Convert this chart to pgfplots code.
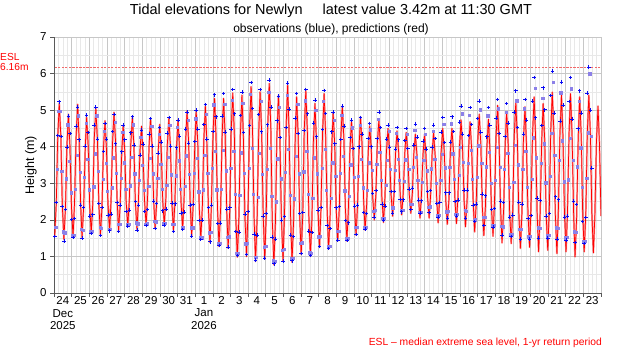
\documentclass[border=0pt]{standalone}
\usepackage{pgfplots}
\pgfplotsset{compat=1.18}
\usepackage{pgfplotstable}
\usepackage{fontspec}
\setmainfont{Liberation Sans}
\definecolor{obsblue}{RGB}{10,10,245}
\definecolor{sqblue}{RGB}{140,128,232}
\definecolor{esl}{RGB}{242,105,105}

% predictions (p) and observations (o), metres; t in days from 24 Dec 2025 00:00
\pgfplotstableread{
t p o
0.04 1.55 1.55
0.13 2.46 2.47
0.21 4.27 4.31
0.30 5.18 5.23
0.39 4.25 4.28
0.47 2.40 2.37
0.56 1.47 1.42
0.65 2.33 2.28
0.73 4.03 3.99
0.82 4.89 4.84
0.90 4.05 4.36
0.99 2.36 2.01
1.08 1.52 1.52
1.16 2.43 2.04
1.25 4.25 4.57
1.34 5.16 5.09
1.42 4.25 4.19
1.51 2.43 2.40
1.59 1.52 1.50
1.68 2.34 2.34
1.77 3.98 4.02
1.85 4.80 4.86
1.94 4.01 4.39
2.02 2.42 2.10
2.11 1.63 1.63
2.20 2.49 2.14
2.28 4.19 4.59
2.37 5.05 5.09
2.46 4.19 4.21
2.54 2.45 2.45
2.63 1.59 1.57
2.72 2.37 2.34
2.80 3.93 3.87
2.89 4.71 4.64
2.97 3.96 4.21
3.06 2.45 2.13
3.15 1.70 1.70
3.23 2.51 2.16
3.32 4.13 4.42
3.40 4.94 4.88
3.49 4.13 4.08
3.58 2.51 2.48
3.66 1.70 1.68
3.75 2.42 2.41
3.84 3.85 3.86
3.92 4.57 4.59
4.01 3.88 4.19
4.09 2.50 2.23
4.18 1.81 1.83
4.27 2.56 2.27
4.35 4.05 4.38
4.44 4.79 4.82
4.53 4.03 4.05
4.61 2.50 2.50
4.70 1.74 1.72
4.78 2.45 2.40
4.87 3.86 3.77
4.96 4.56 4.45
5.04 3.88 4.07
5.13 2.53 2.23
5.22 1.85 1.85
5.30 2.58 2.28
5.39 4.04 4.34
5.47 4.77 4.77
5.56 4.02 4.02
5.65 2.51 2.51
5.73 1.76 1.76
5.82 2.47 2.45
5.91 3.90 3.83
5.99 4.61 4.52
6.08 3.92 4.13
6.16 2.54 2.25
6.25 1.85 1.86
6.34 2.58 2.29
6.42 4.04 4.37
6.51 4.77 4.80
6.60 4.00 4.02
6.68 2.47 2.46
6.77 1.70 1.68
6.85 2.46 2.44
6.94 3.97 3.97
7.03 4.73 4.73
7.11 3.98 4.29
7.20 2.49 2.18
7.29 1.74 1.74
7.37 2.55 2.21
7.46 4.17 4.48
7.54 4.98 4.95
7.63 4.13 4.10
7.72 2.42 2.41
7.80 1.56 1.56
7.89 2.41 2.42
7.98 4.11 4.14
8.06 4.96 5.00
8.15 4.09 4.48
8.23 2.35 1.98
8.32 1.48 1.46
8.41 2.39 2.00
8.49 4.20 4.61
8.58 5.10 5.15
8.66 4.17 4.21
8.75 2.31 2.34
8.84 1.38 1.40
8.92 2.37 2.41
9.01 4.34 4.42
9.10 5.32 5.42
9.18 4.31 4.82
9.27 2.28 1.90
9.35 1.27 1.30
9.44 2.28 1.91
9.53 4.31 4.84
9.61 5.32 5.45
9.70 4.30 4.40
9.79 2.25 2.30
9.87 1.22 1.25
9.96 2.28 2.33
10.04 4.41 4.48
10.13 5.47 5.56
10.22 4.35 4.90
10.30 2.10 1.68
10.39 0.98 1.02
10.48 2.09 1.67
10.56 4.30 4.85
10.65 5.41 5.50
10.73 4.31 4.39
10.82 2.10 2.16
10.91 1.00 1.05
10.99 2.16 2.23
11.08 4.48 4.58
11.17 5.64 5.76
11.25 4.45 5.05
11.34 2.06 1.61
11.42 0.86 0.90
11.51 2.02 1.58
11.60 4.34 4.88
11.68 5.50 5.56
11.77 4.36 4.41
11.86 2.07 2.10
11.94 0.93 0.95
12.03 2.13 2.17
12.11 4.53 4.60
12.20 5.73 5.82
12.29 4.49 5.09
12.37 2.01 1.53
12.46 0.77 0.80
12.55 1.93 1.47
12.63 4.25 4.71
12.72 5.41 5.38
12.80 4.28 4.25
12.89 2.01 2.00
12.98 0.87 0.87
13.06 2.07 2.09
13.15 4.48 4.52
13.24 5.68 5.74
13.32 4.47 5.03
13.41 2.05 1.59
13.49 0.84 0.88
13.58 1.97 1.55
13.67 4.23 4.78
13.75 5.36 5.45
13.84 4.28 4.36
13.92 2.13 2.17
14.01 1.05 1.08
14.10 2.17 2.20
14.18 4.42 4.44
14.27 5.54 5.56
14.36 4.41 4.90
14.44 2.14 1.69
14.53 1.00 1.03
14.62 2.05 1.65
14.70 4.14 4.65
14.79 5.18 5.27
14.87 4.20 4.27
14.96 2.23 2.27
15.05 1.25 1.27
15.13 2.30 2.34
15.22 4.40 4.47
15.31 5.45 5.54
15.39 4.39 4.91
15.48 2.26 1.85
15.56 1.20 1.22
15.65 2.13 1.76
15.74 4.00 4.41
15.82 4.93 4.95
15.91 4.05 4.08
15.99 2.30 2.33
16.08 1.42 1.45
16.17 2.34 2.37
16.25 4.19 4.20
16.34 5.11 5.11
16.43 4.19 4.57
16.51 2.34 1.98
16.60 1.42 1.44
16.68 2.24 1.92
16.77 3.89 4.25
16.86 4.71 4.73
16.94 3.93 3.95
17.03 2.36 2.38
17.12 1.58 1.60
17.20 2.39 2.40
17.29 4.01 4.00
17.37 4.82 4.80
17.46 4.05 4.35
17.55 2.50 2.20
17.63 1.72 1.75
17.72 2.43 2.17
17.81 3.86 4.22
17.89 4.57 4.64
17.98 3.93 4.00
18.06 2.64 2.72
18.15 2.00 2.08
18.24 2.68 2.80
18.32 4.05 4.23
18.41 4.73 4.95
18.50 4.03 4.52
18.58 2.63 2.43
18.67 1.93 2.00
18.75 2.57 2.38
18.84 3.86 4.21
18.93 4.50 4.59
19.01 3.90 3.99
19.10 2.70 2.78
19.19 2.10 2.18
19.27 2.68 2.77
19.36 3.85 3.94
19.44 4.43 4.53
19.53 3.86 4.19
19.62 2.71 2.56
19.70 2.14 2.22
19.79 2.70 2.55
19.88 3.83 4.17
19.96 4.39 4.50
20.05 3.84 3.95
20.13 2.73 2.84
20.22 2.18 2.28
20.31 2.72 2.87
20.39 3.80 4.04
20.48 4.34 4.62
20.57 3.77 4.26
20.65 2.62 2.54
20.74 2.05 2.18
20.82 2.62 2.52
20.91 3.77 4.16
21.00 4.34 4.50
21.08 3.77 3.93
21.17 2.62 2.78
21.26 2.05 2.20
21.34 2.64 2.80
21.43 3.81 3.99
21.51 4.39 4.59
21.60 3.77 4.22
21.69 2.54 2.45
21.77 1.92 2.08
21.86 2.57 2.48
21.94 3.86 4.40
22.03 4.50 4.80
22.12 3.85 4.11
22.20 2.54 2.74
22.29 1.88 2.05
22.38 2.54 2.74
22.46 3.85 4.13
22.55 4.50 4.82
22.64 3.85 4.42
22.72 2.55 2.50
22.81 1.90 2.10
22.89 2.61 2.54
22.98 4.02 4.67
23.07 4.73 5.11
23.15 4.00 4.35
23.24 2.54 2.82
23.32 1.81 2.05
23.41 2.53 2.81
23.50 3.96 4.31
23.58 4.68 5.07
23.67 3.93 4.61
23.76 2.42 2.41
23.84 1.67 1.95
23.93 2.48 2.43
24.01 4.09 4.77
24.10 4.89 5.25
24.19 4.06 4.40
24.27 2.40 2.70
24.36 1.57 1.85
24.45 2.37 2.66
24.53 3.96 4.27
24.62 4.75 5.07
24.70 3.95 4.59
24.79 2.35 2.28
24.88 1.55 1.80
24.96 2.45 2.31
25.05 4.24 4.78
25.14 5.13 5.29
25.22 4.19 4.36
25.31 2.31 2.51
25.39 1.37 1.58
25.48 2.27 2.48
25.57 4.06 4.28
25.65 4.95 5.18
25.74 4.05 4.65
25.82 2.25 2.08
25.91 1.35 1.55
26.00 2.32 2.13
26.08 4.25 4.95
26.17 5.22 5.53
26.26 4.22 4.52
26.34 2.22 2.49
26.43 1.22 1.48
26.52 2.19 2.43
26.60 4.12 4.34
26.69 5.09 5.29
26.77 4.13 4.73
26.86 2.21 2.04
26.95 1.25 1.48
27.03 2.28 2.12
27.12 4.33 5.25
27.21 5.36 5.89
27.29 4.30 4.79
27.38 2.19 2.60
27.46 1.13 1.50
27.55 2.14 2.53
27.64 4.17 4.58
27.72 5.18 5.61
27.81 4.18 5.01
27.89 2.17 2.10
27.98 1.17 1.50
28.07 2.25 2.17
28.15 4.41 5.40
28.24 5.49 6.07
28.33 4.39 4.92
28.41 2.18 2.63
28.50 1.08 1.48
28.58 2.16 2.55
28.67 4.33 4.70
28.76 5.41 5.77
28.84 4.34 5.14
28.93 2.20 2.08
29.02 1.13 1.45
29.10 2.21 2.10
29.19 4.37 5.24
29.27 5.45 5.89
29.36 4.34 4.76
29.45 2.11 2.51
29.53 0.99 1.38
29.62 2.08 2.42
29.71 4.27 4.49
29.79 5.36 5.53
29.88 4.30 4.92
29.96 2.19 1.96
30.05 1.13 1.35
30.14 2.20 2.06
30.22 4.34 5.47
30.31 5.41 6.18
30.40 4.33 5.00
30.48 2.18 3.42
30.57 1.10 nan
30.65 2.10 nan
30.74 4.11 nan
30.83 5.11 nan
30.91 4.11 nan
31.00 2.10 nan
}\tide

% further observations between the rows above
\pgfplotstableread{
t o
0.08 1.80
0.17 3.39
0.26 4.98
0.34 4.97
0.43 3.33
0.52 1.68
0.60 1.65
0.69 3.13
0.77 4.61
0.86 3.61
0.95 2.75
1.03 1.58
1.12 1.58
1.21 2.84
1.29 3.77
1.38 4.85
1.46 3.30
1.55 1.74
1.64 1.73
1.72 3.18
1.81 4.64
1.90 3.66
1.98 2.83
2.07 1.68
2.15 1.69
2.24 2.91
2.33 3.81
2.41 4.85
2.50 3.33
2.59 1.81
2.67 1.78
2.76 3.11
2.84 4.43
2.93 3.55
3.02 2.79
3.10 1.75
3.19 1.75
3.28 2.88
3.36 3.70
3.45 4.67
3.53 3.28
3.62 1.89
3.71 1.88
3.79 3.14
3.88 4.40
3.97 3.57
4.05 2.85
4.14 1.88
4.22 1.88
4.31 2.94
4.40 3.71
4.48 4.61
4.57 3.27
4.66 1.93
4.74 1.90
4.83 3.09
4.91 4.27
5.00 3.49
5.09 2.82
5.17 1.89
5.26 1.90
5.35 2.93
5.43 3.69
5.52 4.57
5.60 3.27
5.69 1.96
5.78 1.95
5.86 3.14
5.95 4.34
6.03 3.53
6.12 2.85
6.21 1.91
6.29 1.91
6.38 2.95
6.47 3.71
6.55 4.59
6.64 3.24
6.72 1.89
6.81 1.88
6.90 3.21
6.98 4.53
7.07 3.62
7.16 2.85
7.24 1.79
7.33 1.79
7.41 2.93
7.50 3.76
7.59 4.72
7.67 3.26
7.76 1.79
7.85 1.79
7.93 3.28
8.02 4.77
8.10 3.69
8.19 2.77
8.28 1.52
8.36 1.52
8.45 2.83
8.53 3.78
8.62 4.90
8.71 3.28
8.79 1.65
8.88 1.67
8.97 3.41
9.05 5.15
9.14 3.89
9.22 2.83
9.31 1.37
9.40 1.37
9.48 2.84
9.57 3.91
9.66 5.17
9.74 3.35
9.83 1.53
9.92 1.54
10.00 3.41
10.09 5.27
10.17 3.88
10.26 2.70
10.35 1.10
10.43 1.10
10.52 2.68
10.61 3.84
10.69 5.20
10.78 3.28
10.86 1.35
10.95 1.37
11.04 3.41
11.12 5.44
11.21 3.96
11.29 2.70
11.38 0.98
11.47 0.98
11.55 2.63
11.64 3.83
11.73 5.25
11.81 3.26
11.90 1.26
11.99 1.28
12.07 3.39
12.16 5.49
12.24 3.96
12.33 2.66
12.42 0.89
12.50 0.88
12.59 2.50
12.67 3.68
12.76 5.08
12.85 3.13
12.93 1.17
13.02 1.20
13.11 3.31
13.19 5.41
13.28 3.94
13.36 2.68
13.45 0.96
13.54 0.96
13.62 2.58
13.71 3.75
13.80 5.16
13.88 3.27
13.97 1.37
14.05 1.38
14.14 3.32
14.23 5.26
14.31 3.88
14.40 2.71
14.49 1.11
14.57 1.10
14.66 2.60
14.74 3.70
14.83 5.00
14.92 3.27
15.00 1.54
15.09 1.56
15.18 3.41
15.26 5.25
15.35 3.94
15.43 2.82
15.52 1.29
15.61 1.28
15.69 2.60
15.78 3.57
15.87 4.72
15.95 3.20
16.04 1.69
16.12 1.70
16.21 3.28
16.30 4.87
16.38 3.75
16.47 2.80
16.56 1.50
16.64 1.50
16.73 2.66
16.81 3.51
16.90 4.52
16.99 3.17
17.07 1.81
17.16 1.81
17.25 3.20
17.33 4.59
17.42 3.67
17.50 2.88
17.59 1.80
17.68 1.80
17.76 2.82
17.85 3.57
17.93 4.47
18.02 3.36
18.11 2.25
18.19 2.27
18.28 3.52
18.37 4.76
18.45 3.86
18.54 3.09
18.62 2.05
18.71 2.04
18.80 2.96
18.88 3.63
18.97 4.43
19.06 3.39
19.14 2.34
19.23 2.34
19.31 3.36
19.40 4.37
19.49 3.67
19.57 3.08
19.66 2.26
19.75 2.26
19.83 3.07
19.92 3.65
20.00 4.35
20.09 3.39
20.18 2.43
20.26 2.44
20.35 3.45
20.44 4.46
20.52 3.71
20.61 3.09
20.69 2.22
20.78 2.22
20.87 3.04
20.95 3.64
21.04 4.35
21.13 3.35
21.21 2.35
21.30 2.36
21.38 3.40
21.47 4.43
21.56 3.66
21.64 3.01
21.73 2.12
21.82 2.13
21.90 3.09
21.99 3.79
22.07 4.62
22.16 3.43
22.25 2.23
22.33 2.24
22.42 3.44
22.50 4.63
22.59 3.81
22.68 3.11
22.76 2.15
22.85 2.15
22.94 3.22
23.02 3.99
23.11 4.91
23.19 3.58
23.28 2.26
23.37 2.25
23.45 3.56
23.54 4.87
23.63 3.91
23.71 3.11
23.80 2.00
23.88 2.01
23.97 3.17
24.06 4.03
24.14 5.02
24.23 3.55
24.32 2.08
24.40 2.07
24.49 3.46
24.57 4.85
24.66 3.86
24.75 3.01
24.83 1.86
24.92 1.86
25.01 3.09
25.09 4.00
25.18 5.04
25.26 3.44
25.35 1.83
25.44 1.82
25.52 3.38
25.61 4.94
25.70 3.83
25.78 2.90
25.87 1.61
25.95 1.62
26.04 3.03
26.13 4.05
26.21 5.26
26.30 3.51
26.39 1.75
26.47 1.74
26.56 3.39
26.64 5.04
26.73 3.88
26.82 2.89
26.90 1.54
26.99 1.55
27.08 3.12
27.16 4.25
27.25 5.60
27.33 3.70
27.42 1.79
27.51 1.78
27.59 3.56
27.68 5.34
27.77 4.09
27.85 3.02
27.94 1.57
28.02 1.58
28.11 3.20
28.20 4.37
28.28 5.76
28.37 3.78
28.46 1.79
28.54 1.77
28.63 3.63
28.71 5.48
28.80 4.17
28.89 3.05
28.97 1.52
29.06 1.53
29.15 3.10
29.23 4.24
29.32 5.59
29.40 3.64
29.49 1.68
29.58 1.66
29.66 3.46
29.75 5.25
29.84 3.98
29.92 2.90
30.01 1.42
30.09 1.43
30.18 3.14
30.27 4.39
30.35 6.00
30.44 4.30
}\tideB

% extreme sea level (ESL) = 6.16 m, drawn as a row of short dashes
\pgfplotstableread[row sep=\\]{
x y\\ 0.1 6.16\\ 0.3 6.16\\ 0.5 6.16\\ 0.7 6.16\\ 0.9 6.16\\ 1.1 6.16\\ 1.3 6.16\\ 1.5 6.16\\ 1.7 6.16\\ 1.9 6.16\\
2.1 6.16\\ 2.3 6.16\\ 2.5 6.16\\ 2.7 6.16\\ 2.9 6.16\\ 3.1 6.16\\ 3.3 6.16\\ 3.5 6.16\\ 3.7 6.16\\ 3.9 6.16\\
4.1 6.16\\ 4.3 6.16\\ 4.5 6.16\\ 4.7 6.16\\ 4.9 6.16\\ 5.1 6.16\\ 5.3 6.16\\ 5.5 6.16\\ 5.7 6.16\\ 5.9 6.16\\
6.1 6.16\\ 6.3 6.16\\ 6.5 6.16\\ 6.7 6.16\\ 6.9 6.16\\ 7.1 6.16\\ 7.3 6.16\\ 7.5 6.16\\ 7.7 6.16\\ 7.9 6.16\\
8.1 6.16\\ 8.3 6.16\\ 8.5 6.16\\ 8.7 6.16\\ 8.9 6.16\\ 9.1 6.16\\ 9.3 6.16\\ 9.5 6.16\\ 9.7 6.16\\ 9.9 6.16\\
10.1 6.16\\ 10.3 6.16\\ 10.5 6.16\\ 10.7 6.16\\ 10.9 6.16\\ 11.1 6.16\\ 11.3 6.16\\ 11.5 6.16\\ 11.7 6.16\\ 11.9 6.16\\
12.1 6.16\\ 12.3 6.16\\ 12.5 6.16\\ 12.7 6.16\\ 12.9 6.16\\ 13.1 6.16\\ 13.3 6.16\\ 13.5 6.16\\ 13.7 6.16\\ 13.9 6.16\\
14.1 6.16\\ 14.3 6.16\\ 14.5 6.16\\ 14.7 6.16\\ 14.9 6.16\\ 15.1 6.16\\ 15.3 6.16\\ 15.5 6.16\\ 15.7 6.16\\ 15.9 6.16\\
16.1 6.16\\ 16.3 6.16\\ 16.5 6.16\\ 16.7 6.16\\ 16.9 6.16\\ 17.1 6.16\\ 17.3 6.16\\ 17.5 6.16\\ 17.7 6.16\\ 17.9 6.16\\
18.1 6.16\\ 18.3 6.16\\ 18.5 6.16\\ 18.7 6.16\\ 18.9 6.16\\ 19.1 6.16\\ 19.3 6.16\\ 19.5 6.16\\ 19.7 6.16\\ 19.9 6.16\\
20.1 6.16\\ 20.3 6.16\\ 20.5 6.16\\ 20.7 6.16\\ 20.9 6.16\\ 21.1 6.16\\ 21.3 6.16\\ 21.5 6.16\\ 21.7 6.16\\ 21.9 6.16\\
22.1 6.16\\ 22.3 6.16\\ 22.5 6.16\\ 22.7 6.16\\ 22.9 6.16\\ 23.1 6.16\\ 23.3 6.16\\ 23.5 6.16\\ 23.7 6.16\\ 23.9 6.16\\
24.1 6.16\\ 24.3 6.16\\ 24.5 6.16\\ 24.7 6.16\\ 24.9 6.16\\ 25.1 6.16\\ 25.3 6.16\\ 25.5 6.16\\ 25.7 6.16\\ 25.9 6.16\\
26.1 6.16\\ 26.3 6.16\\ 26.5 6.16\\ 26.7 6.16\\ 26.9 6.16\\ 27.1 6.16\\ 27.3 6.16\\ 27.5 6.16\\ 27.7 6.16\\ 27.9 6.16\\
28.1 6.16\\ 28.3 6.16\\ 28.5 6.16\\ 28.7 6.16\\ 28.9 6.16\\ 29.1 6.16\\ 29.3 6.16\\ 29.5 6.16\\ 29.7 6.16\\ 29.9 6.16\\
30.1 6.16\\ 30.3 6.16\\ 30.5 6.16\\ 30.7 6.16\\ 30.9 6.16\\
}\esltab

\begin{document}
\begin{tikzpicture}
\path[use as bounding box] (0pt,0pt) rectangle (620pt,350pt);
\begin{axis}[
  at={(54pt,57pt)}, anchor=south west,
  scale only axis, width=547pt, height=256pt,
  xmin=0, xmax=31, ymin=0, ymax=7,
  axis lines*=left,
  axis line style={black!65, line width=0.6pt},
  tick align=outside,
  tick style={black!65, line width=0.5pt},
  major tick length=4pt,
  minor tick length=0pt,
  /pgf/number format/assume math mode=true,
  ticklabel style={font=\fontsize{11.5}{12.5}\selectfont},
  xtick={0,1,...,31},
  xticklabels={},
  minor x tick num=3,
  ytick={0,1,...,7},
  minor y tick num=1,
  xmajorgrids, xminorgrids, ymajorgrids, yminorgrids,
  major grid style={black!22, line width=0.5pt},
  minor grid style={black!9, line width=0.5pt},
  xticklabel style={align=center},
  extra x ticks={0.5,1.5,...,30.5},
  extra x tick labels={{24\\Dec\\2025},25,26,27,28,29,30,31,{1\\Jan\\2026},2,3,4,5,6,7,8,9,10,11,12,13,14,15,16,17,18,19,20,21,22,23},
  extra x tick style={grid=none, major tick length=0pt},
  clip=true,
]
\addplot[color=esl, only marks, mark=-, mark size=1.1pt, mark options={draw=esl, line width=0.8pt}] table[x=x,y=y]{\esltab};
\addplot[color=red, opacity=0.4, line width=1.8pt, line join=round, mark=none] table[x=t,y=p]{\tide};
\addplot[color=red, line width=0.7pt, line join=round, mark=none] table[x=t,y=p]{\tide};
\addplot[color=sqblue, only marks, mark=square*, mark size=1.15pt, mark options={fill=sqblue, draw=sqblue, line width=0.1pt}] table[x=t,y=o]{\tideB};
\addplot[color=obsblue, only marks, mark=+, mark size=1.8pt, mark options={draw=obsblue, line width=0.7pt}] table[x=t,y=o]{\tide};
\end{axis}
\node[font=\fontsize{14.5}{16}\selectfont] at (331pt,339pt) {Tidal elevations for Newlyn\hspace{20pt}latest value 3.42m at 11:30 GMT};
\node[font=\fontsize{12}{14}\selectfont] at (331pt,320.5pt) {observations (blue), predictions (red)};
\node[rotate=90, font=\fontsize{12.5}{14}\selectfont] at (31pt,185pt) {Height (m)};
\node[anchor=west, text=red, align=left, font=\fontsize{10.2}{10.5}\selectfont, inner sep=0pt] at (0pt,288pt) {ESL\\6.16m};
\node[anchor=east, text=red, font=\fontsize{10.3}{12}\selectfont, inner sep=0pt] at (602pt,7pt) {ESL -- median extreme sea level, 1-yr return period};
\end{tikzpicture}
\end{document}
